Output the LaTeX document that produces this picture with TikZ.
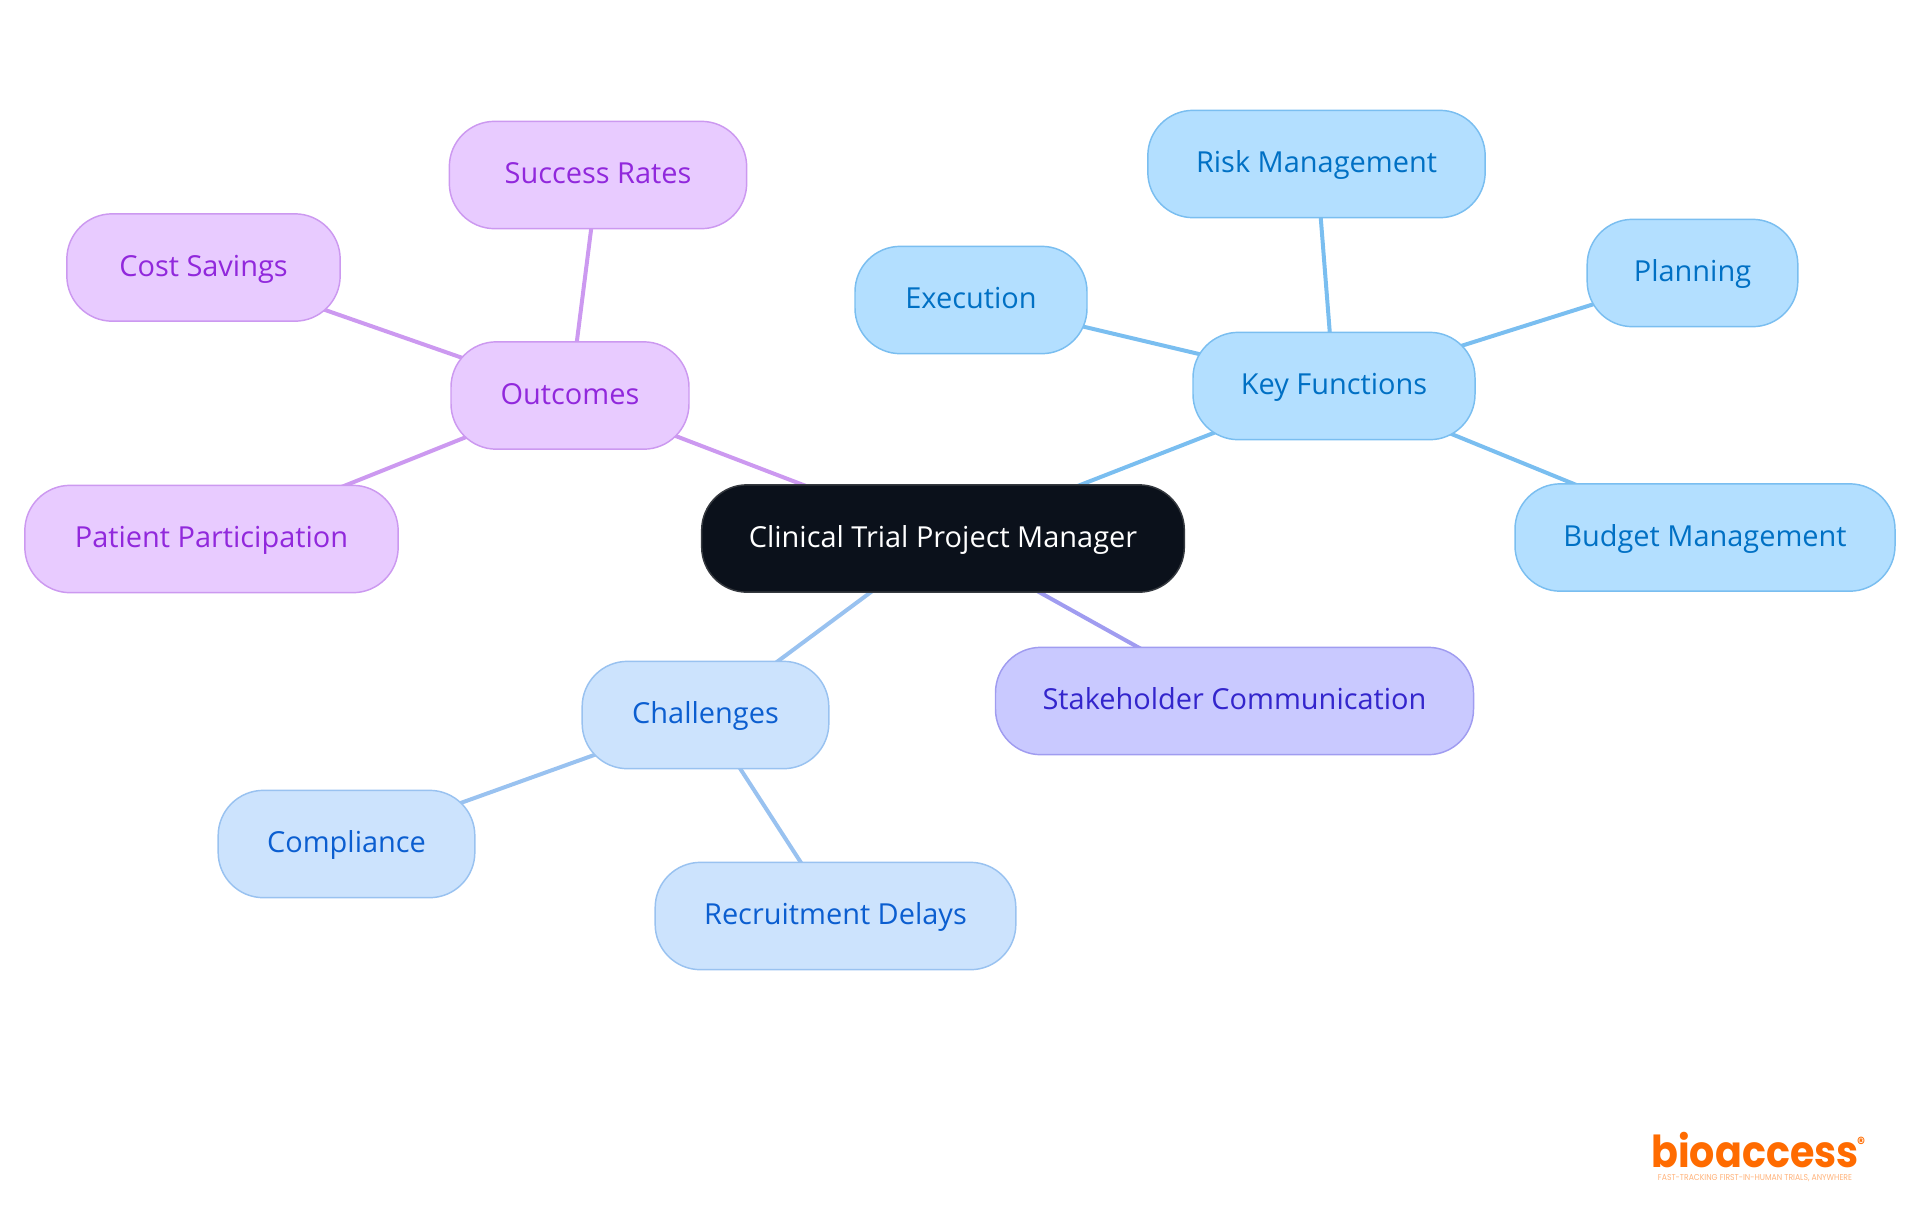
\documentclass[tikz,border=0pt]{standalone}
\usepackage{fontspec}
\setmainfont{Open Sans}
\newfontfamily\logofont[FakeStretch=0.9]{Poppins}
\usetikzlibrary{backgrounds}

\definecolor{rootfill}{HTML}{0B111B}
\definecolor{rootline}{HTML}{35393F}
\definecolor{keyfill}{HTML}{B3DFFF}
\definecolor{keyline}{HTML}{7ABEF0}
\definecolor{keytext}{HTML}{0070C4}
\definecolor{outfill}{HTML}{E8CBFF}
\definecolor{outline}{HTML}{CC99F0}
\definecolor{outtext}{HTML}{9128DC}
\definecolor{chalfill}{HTML}{CCE3FD}
\definecolor{challine}{HTML}{99C2F0}
\definecolor{chaltext}{HTML}{0B5ED0}
\definecolor{stakefill}{HTML}{C9C9FF}
\definecolor{stakeline}{HTML}{A09CF0}
\definecolor{staketext}{HTML}{3325CC}
\definecolor{logoorange}{HTML}{FF6B00}
\definecolor{logotag}{HTML}{FFB27A}

\begin{document}
\begin{tikzpicture}[x=.75pt, y=-.75pt]
    \tikzstyle{topic}=[rectangle, rounded corners=34pt, minimum height=80.5pt, inner sep=0pt, line width=1.1pt, text height=17.8pt, text depth=5pt, font=\fontsize{21.7}{26}\selectfont]
    \tikzstyle{root topic}=[topic, fill=rootfill, draw=rootline, text=white]
    \tikzstyle{key topic}=[topic, fill=keyfill, draw=keyline, text=keytext]
    \tikzstyle{out topic}=[topic, fill=outfill, draw=outline, text=outtext]
    \tikzstyle{chal topic}=[topic, fill=chalfill, draw=challine, text=chaltext]
    \tikzstyle{stake topic}=[topic, fill=stakefill, draw=stakeline, text=staketext]
    \tikzstyle{link}=[line width=3pt]

    \useasboundingbox (0,0) rectangle (1920,1215);

    % Central topic
    \node[root topic, minimum width=362pt] (Root) at (943,538.5) {Clinical Trial Project Manager};

    % Key functions branch
    \node[key topic, minimum width=211.5pt] (Key) at (1334,386) {Key Functions};
    \node[key topic, minimum width=253pt] (Risk) at (1316.5,164) {Risk Management};
    \node[key topic, minimum width=174pt] (Execution) at (971,300) {Execution};
    \node[key topic, minimum width=158pt] (Planning) at (1692.5,273) {Planning};
    \node[key topic, minimum width=285pt] (Budget) at (1705,537.5) {Budget Management};

    % Outcomes branch
    \node[out topic, minimum width=178.5pt] (Outcomes) at (570,395.5) {Outcomes};
    \node[out topic, minimum width=223pt] (Success) at (598,175) {Success Rates};
    \node[out topic, minimum width=205pt] (Cost) at (203.5,267.5) {Cost Savings};
    \node[out topic, minimum width=280pt] (Patient) at (211.5,539) {Patient Participation};

    % Challenges branch
    \node[chal topic, minimum width=185pt] (Challenges) at (705.5,715) {Challenges};
    \node[chal topic, minimum width=192.5pt] (Compliance) at (346.5,844) {Compliance};
    \node[chal topic, minimum width=270.5pt] (Recruitment) at (835.5,916) {Recruitment Delays};

    % Stakeholder branch
    \node[stake topic, minimum width=358.5pt] (Stakeholder) at (1234.5,701) {Stakeholder Communication};

    % Connect everything behind the topics
    \begin{scope}[on background layer]
        \draw[link, keyline] (Root.center) -- (Key.center);
        \foreach \dest in {Risk,Execution,Planning,Budget}
            \draw[link, keyline] (Key.center) -- (\dest.center);

        \draw[link, outline] (Root.center) -- (Outcomes.center);
        \foreach \dest in {Success,Cost,Patient}
            \draw[link, outline] (Outcomes.center) -- (\dest.center);

        \draw[link, challine] (Root.center) -- (Challenges.center);
        \foreach \dest in {Compliance,Recruitment}
            \draw[link, challine] (Challenges.center) -- (\dest.center);

        \draw[link, stakeline] (Root.center) -- (Stakeholder.center);
    \end{scope}

    % Logo
    \node[inner sep=0pt, text=logoorange, font=\logofont\bfseries\fontsize{33}{36}\selectfont] (Logo) at (1755,1150) {bioaccess};
    \node[inner sep=0pt, text=logoorange, font=\logofont\bfseries\fontsize{13}{13}\selectfont] (LogoMark) at (1861,1143) {®};
    \node[inner sep=0pt, text=logotag, font=\logofont\fontsize{6.4}{7}\selectfont] (LogoTag) at (1755,1178) {FAST-TRACKING FIRST-IN-HUMAN TRIALS, ANYWHERE};
\end{tikzpicture}
\end{document}
